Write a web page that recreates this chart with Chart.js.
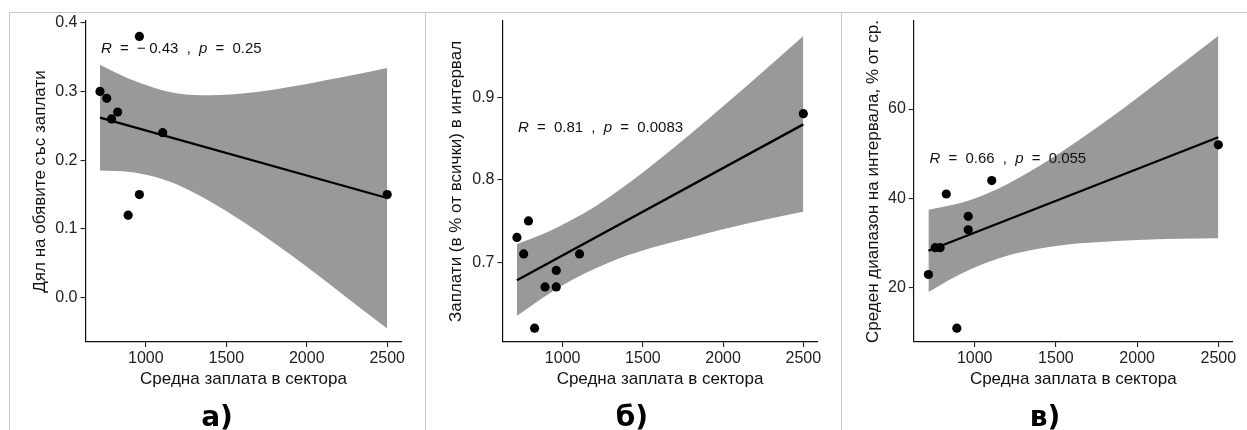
<!DOCTYPE html>
<html><head><meta charset="utf-8">
<script src="https://cdn.jsdelivr.net/npm/chart.js@4.4.1/dist/chart.umd.min.js"></script>
<style>
html,body{margin:0;padding:0;background:#fff;}
#wrap{position:relative;width:1247px;height:430px;overflow:hidden;background:#fff;}
canvas{position:absolute;left:0;top:0;width:1247px;height:430px;}
.sep{position:absolute;background:#c9c9c9;}
.lab{position:absolute;top:403px;width:120px;text-align:center;font-weight:bold;font-size:28px;font-family:"DejaVu Sans";line-height:28px;color:#000;white-space:nowrap;}
</style></head><body>
<div id="wrap">
  <div class="sep" style="left:9px;top:12px;width:1238px;height:1px"></div>
  <div class="sep" style="left:9px;top:12px;width:1px;height:418px"></div>
  <div class="sep" style="left:425px;top:12px;width:1px;height:418px"></div>
  <div class="sep" style="left:841px;top:12px;width:1px;height:418px"></div>
  <canvas id="cA" width="1247" height="430"></canvas>
  <canvas id="cB" width="1247" height="430"></canvas>
  <canvas id="cC" width="1247" height="430"></canvas>
  <div class="lab" id="labA" style="left:157px">а)</div>
  <div class="lab" id="labB" style="left:572px">б)</div>
  <div class="lab" id="labC" style="left:985px">в)</div>
</div>
<script>
// ---- data ----
const salaries = [715, 757, 787, 825, 890, 960, 960, 1105, 2500];
const shareWithSalary = [0.30, 0.29, 0.26, 0.27, 0.12, 0.38, 0.15, 0.24, 0.15];
const salaryInRangeShare = [0.73, 0.71, 0.75, 0.62, 0.67, 0.69, 0.67, 0.71, 0.88];
const avgRangePct = [23, 29, 29, 41, 11, 36, 33, 44, 52];

const fitX = [715, 2500];
const fitA = [0.262, 0.145];
const fitB = [0.678, 0.867];
const fitC = [28.3, 53.7];

const bandX = [715, 900, 1055, 1200, 1400, 1600, 1800, 2000, 2250, 2500];
const bandUpperA = [0.339, 0.318, 0.305, 0.297, 0.2945, 0.297, 0.303, 0.311, 0.322, 0.334];
const bandLowerA = [0.185, 0.183, 0.176, 0.164, 0.140, 0.111, 0.079, 0.045, 0.000, -0.045];
const bandUpperB = [0.722, 0.736, 0.751, 0.767, 0.794, 0.824, 0.856, 0.889, 0.931, 0.974];
const bandLowerB = [0.635, 0.660, 0.678, 0.692, 0.708, 0.720, 0.730, 0.740, 0.751, 0.761];
const bandUpperC = [37.5, 38.9, 40.8, 43.2, 47.3, 52.0, 57.1, 62.5, 69.4, 76.4];
const bandLowerC = [19.1, 22.9, 25.4, 27.2, 28.8, 29.8, 30.3, 30.7, 31.0, 31.1];

const xTickValues = [1000, 1500, 2000, 2500];
const yTickValuesA = [0.0, 0.1, 0.2, 0.3, 0.4];
const yTickLabelsA = ['0.0', '0.1', '0.2', '0.3', '0.4'];
const yTickValuesB = [0.7, 0.8, 0.9];
const yTickLabelsB = ['0.7', '0.8', '0.9'];
const yTickValuesC = [20, 40, 60];
const yTickLabelsC = ['20', '40', '60'];

const rLabels = ['−0.43', '0.81', '0.66'];
const pLabels = ['0.25', '0.0083', '0.055'];

const xTitle = 'Средна заплата в сектора';
const yTitles = ['Дял на обявите със заплати', 'Заплати (в % от всички) в интервал', 'Среден диапазон на интервала, % от ср.'];

// ---- drawing ----
const FAM = "'Liberation Sans', Arial, sans-serif";
const pts = (xs, ys) => xs.map((x, i) => ({x, y: ys[i]}));

const annot = {
  id: 'annot',
  afterDatasetsDraw(chart, args, o) {
    const ctx = chart.ctx;
    const xs = chart.scales.x, ys = chart.scales.y;
    let x = xs.getPixelForValue(o.x) + 1;
    const y = ys.getPixelForValue(o.y) + 5.4;
    const G = 8.2;
    const neg = o.r.startsWith('−');
    const toks = [{t: 'R', it: true, g: 0}, {t: '=', g: G}];
    if (neg) { toks.push({t: '−', g: G}); toks.push({t: o.r.slice(1), g: 3.5}); }
    else toks.push({t: o.r, g: G});
    toks.push({t: ',', g: G}, {t: 'p', it: true, g: G}, {t: '=', g: G}, {t: o.p, g: G});
    ctx.save();
    ctx.fillStyle = '#111';
    ctx.textBaseline = 'alphabetic';
    ctx.textAlign = 'left';
    for (const tk of toks) {
      x += tk.g;
      ctx.font = (tk.it ? 'italic ' : '') + '15px ' + FAM;
      ctx.fillText(tk.t, x, y);
      x += ctx.measureText(tk.t).width;
    }
    ctx.restore();
  }
};

function makePanel(id, cfg) {
  const F = 17;
  new Chart(document.getElementById(id), {
    type: 'scatter',
    data: {
      datasets: [
        {data: pts(salaries, cfg.ys), backgroundColor: '#000', borderWidth: 0, pointRadius: 4.6, showLine: false},
        {data: pts(fitX, cfg.fit), showLine: true, borderColor: '#000', borderWidth: 2.3, pointRadius: 0, fill: false},
        {data: pts(bandX, cfg.up), showLine: true, borderColor: 'rgba(0,0,0,0)', borderWidth: 0, pointRadius: 0,
         fill: '+1', backgroundColor: '#999999', cubicInterpolationMode: 'monotone'},
        {data: pts(bandX, cfg.lo), showLine: true, borderColor: 'rgba(0,0,0,0)', borderWidth: 0, pointRadius: 0,
         fill: false, cubicInterpolationMode: 'monotone'}
      ]
    },
    options: {
      responsive: false, animation: false, events: [],
      layout: {padding: {left: cfg.pl, right: 1247 - cfg.right, top: 21, bottom: 0}},
      plugins: {legend: {display: false}, tooltip: {enabled: false},
        annot: {x: cfg.lx, y: cfg.ly, r: cfg.r, p: cfg.p}},
      scales: {
        x: {
          type: 'linear', min: 625, max: 2589,
          afterBuildTicks: s => { s.ticks = xTickValues.map(v => ({value: v})); },
          afterFit: s => { s.height = 88; },
          grid: {display: true, drawOnChartArea: false, drawTicks: true, tickLength: 5, color: '#222', lineWidth: 1.1},
          border: {display: true, color: '#111', width: 1.2},
          ticks: {color: '#222', font: {family: FAM, size: 16}, padding: 2, maxRotation: 0, autoSkip: false,
                  callback: v => String(v)},
          title: {display: true, text: xTitle, color: '#111', font: {family: FAM, size: F}, padding: {top: 0, bottom: 40.8}}
        },
        y: {
          type: 'linear', min: cfg.ymin, max: cfg.ymax,
          afterBuildTicks: s => { s.ticks = cfg.yt.map(v => ({value: v})); },
          afterFit: s => { s.width = cfg.left - cfg.pl; },
          grid: {display: true, drawOnChartArea: false, drawTicks: true, tickLength: 5, color: '#222', lineWidth: 1.1},
          border: {display: true, color: '#111', width: 1.2},
          ticks: {color: '#222', font: {family: FAM, size: 16}, padding: 3, autoSkip: false,
                  callback: (v, i) => cfg.yl[i]},
          title: {display: true, text: cfg.yTitle, color: '#111', font: {family: FAM, size: F}, padding: {top: 0, bottom: 0}}
        }
      }
    },
    plugins: [annot]
  });
}

makePanel('cA', {ys: shareWithSalary, fit: fitA, up: bandUpperA, lo: bandLowerA,
  left: 85.5, right: 401.5, pl: 29.8, ymin: -0.0645, ymax: 0.4025, yt: yTickValuesA, yl: yTickLabelsA,
  yTitle: yTitles[0], lx: salaries[0], ly: 0.364, r: rLabels[0], p: pLabels[0]});
makePanel('cB', {ys: salaryInRangeShare, fit: fitB, up: bandUpperB, lo: bandLowerB,
  left: 502.5, right: 817.6, pl: 446.5, ymin: 0.6032, ymax: 0.9923, yt: yTickValuesB, yl: yTickLabelsB,
  yTitle: yTitles[1], lx: salaries[0], ly: 0.864, r: rLabels[1], p: pLabels[1]});
makePanel('cC', {ys: avgRangePct, fit: fitC, up: bandUpperC, lo: bandLowerC,
  left: 913.8, right: 1232.8, pl: 862.8, ymin: 7.9, ymax: 79.7, yt: yTickValuesC, yl: yTickLabelsC,
  yTitle: yTitles[2], lx: salaries[0], ly: 49.1, r: rLabels[2], p: pLabels[2]});
</script>
</body></html>
